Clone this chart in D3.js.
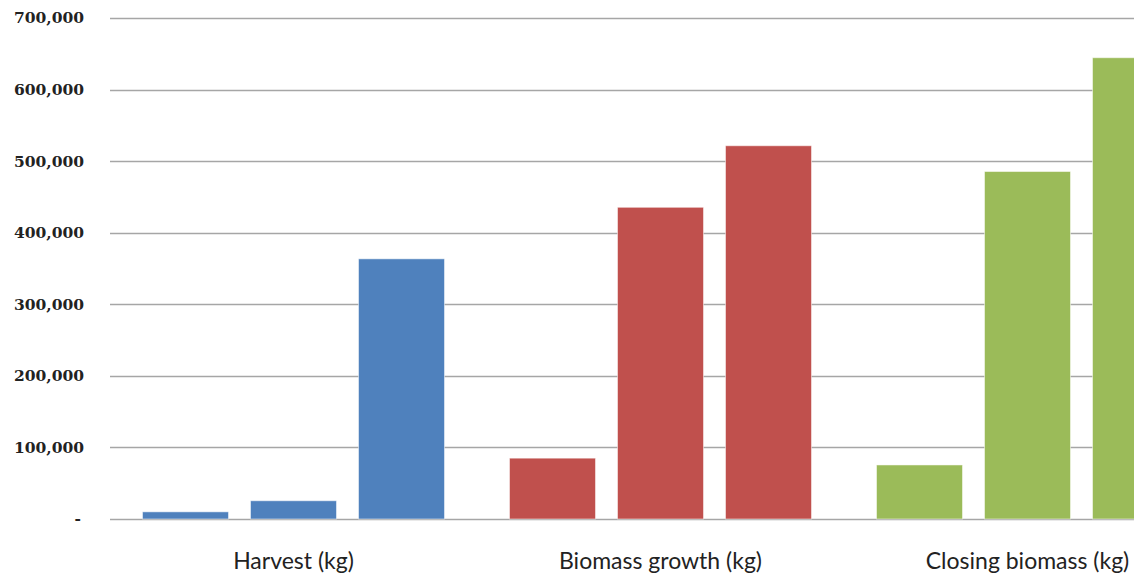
<!DOCTYPE html>
<html><head><meta charset="utf-8">
<script src="https://cdn.jsdelivr.net/npm/d3@7"></script>
<style>html,body{margin:0;padding:0;background:#fff;overflow:hidden}</style>
</head><body>
<svg id="chart" width="1134" height="577"></svg>
<script>
const categories = ["Harvest (kg)", "Biomass growth (kg)", "Closing biomass (kg)"];
const seriesNames = ["Series 1", "Series 2", "Series 3"];
const harvest = [10000, 25500, 363500];
const biomassGrowth = [85000, 435500, 521500];
const closingBiomass = [75500, 485500, 644500];
const yTicks = [0, 100000, 200000, 300000, 400000, 500000, 600000, 700000];
const colors = ["#4F81BD", "#C0504D", "#9BBB59"];

const values = [harvest, biomassGrowth, closingBiomass];
const svg = d3.select("#chart");
const y = d3.scaleLinear().domain([0, 700000]).range([519, 18]);
const x = d3.scaleBand().domain(categories).range([110, 1211]).paddingInner(0).paddingOuter(0);
const xs = d3.scaleBand().domain(seriesNames).range([0, x.bandwidth()]).paddingInner(0.2037).paddingOuter(0.3009);

const fmt = d => d === 0 ? "-" : d3.format(",")(d);

// gridlines
svg.append("g").selectAll("line").data(yTicks).join("line")
  .attr("x1", 110).attr("x2", 1134)
  .attr("y1", d => Math.round(y(d)) + 0.5).attr("y2", d => Math.round(y(d)) + 0.5)
  .attr("stroke", "#a6a6a6").attr("stroke-width", 1.5);

// y axis labels
const yAxis = d3.axisLeft(y).tickValues(yTicks).tickFormat(fmt).tickSize(0).tickPadding(0);
const ya = svg.append("g").attr("transform", "translate(84,0)").call(yAxis);
ya.select(".domain").remove();
ya.selectAll("text").attr("font-family", "DejaVu Serif").attr("font-weight", "bold")
  .attr("font-size", "15.5px").attr("fill", "#222");
ya.selectAll(".tick").filter(d => d === 0).select("text").attr("dx", "-3");

// bars
categories.forEach((c, ci) => {
  svg.append("g").selectAll("rect").data(values[ci]).join("rect")
    .attr("x", (d, i) => x(c) + xs(seriesNames[i]))
    .attr("width", xs.bandwidth())
    .attr("y", d => y(d))
    .attr("height", d => y(0) - y(d))
    .attr("fill", colors[ci])
    .attr("stroke", "rgba(255,255,255,0.5)").attr("stroke-width", 1);
});

// category labels
const xAxis = d3.axisBottom(x).tickSize(0).tickPadding(0);
const xa = svg.append("g").attr("transform", "translate(0,569)").call(xAxis);
xa.select(".domain").remove();
xa.selectAll("text").attr("font-family", "Lato").attr("font-size", "23px")
  .attr("fill", "#222").attr("dy", "0");
</script>
</body></html>
